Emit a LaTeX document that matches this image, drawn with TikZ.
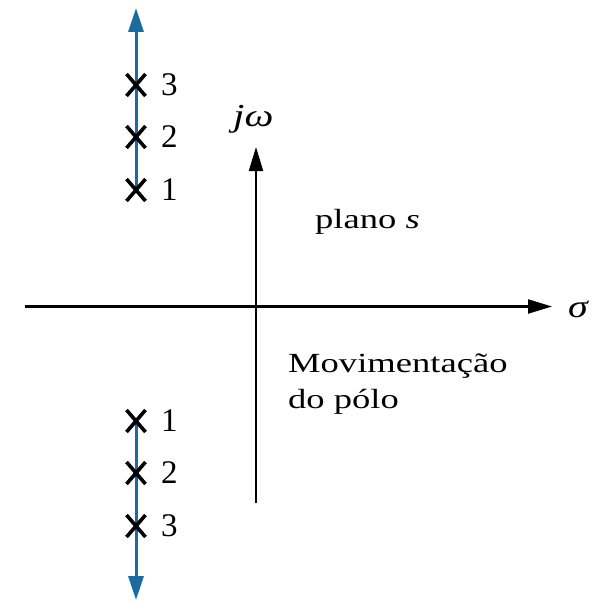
\documentclass[tikz,border=0pt]{standalone}
\usepackage{fontspec}
\usepackage{graphicx}
\setmainfont{Liberation Serif}
\usetikzlibrary{arrows.meta}
\definecolor{poleblue}{RGB}{26,108,160}
\newcommand{\wtxt}[1]{\scalebox{1.32}[1]{#1}}
\tikzset{
  axis/.style={line width=2.2pt, draw=black, -{Triangle[length=24pt,width=14pt]}},
  locus/.style={line width=3pt, draw=poleblue, -{Triangle[length=24pt,width=15pt]}},
  polex/.style={line width=3.6pt, draw=black},
  lbl/.style={inner sep=0pt, anchor=base west, font=\fontsize{27.7}{33}\selectfont},
  sym/.style={inner sep=0pt, anchor=base west, font=\fontsize{32}{36}\selectfont},
  num/.style={inner sep=0pt, anchor=west, font=\fontsize{33}{36}\selectfont}
}
\begin{document}
\begin{tikzpicture}[x=1pt,y=-1pt]
\useasboundingbox (0,0) rectangle (604,602);
% axes
\coordinate (hl) at (25,306.5);
\coordinate (hr) at (552,306.5);
\coordinate (vb) at (256,503);
\coordinate (vt) at (256,147);
\draw[axis] (hl) -- (hr);
\draw[axis] (vb) -- (vt);
% labels
\node[sym] (jw) at (233,126) {\scalebox{1.28}[1]{\itshape jω}};
\node[sym] (sig) at (568,317) {\scalebox{1.25}[1]{\itshape σ}};
\node[lbl] (plano) at (315,228) {\wtxt{plano \itshape s}};
\node[lbl] (mov1) at (288,372) {\wtxt{Movimentação}};
\node[lbl] (mov2) at (288,408) {\wtxt{do pólo}};
% pole positions
\coordinate (t1) at (136,190);
\coordinate (t2) at (136,137);
\coordinate (t3) at (136,85);
\coordinate (ttip) at (136,8);
\coordinate (b1) at (136,421);
\coordinate (b2) at (136,473);
\coordinate (b3) at (136,526);
\coordinate (btip) at (136,600);
\draw[locus] (t1) -- (ttip);
\draw[locus] (b1) -- (btip);
\foreach \p in {t1,t2,t3,b1,b2,b3}{
  \draw[polex] ([shift={(-9.5,-11)}]\p) -- ([shift={(9.5,11)}]\p);
  \draw[polex] ([shift={(-9.5,11)}]\p) -- ([shift={(9.5,-11)}]\p);
}
\node[num] (n3t) at (161,85) {3};
\node[num] (n2t) at (161,137) {2};
\node[num] (n1t) at (161,190) {1};
\node[num] (n1b) at (161,421) {1};
\node[num] (n2b) at (161,473) {2};
\node[num] (n3b) at (161,526) {3};
\end{tikzpicture}
\end{document}
